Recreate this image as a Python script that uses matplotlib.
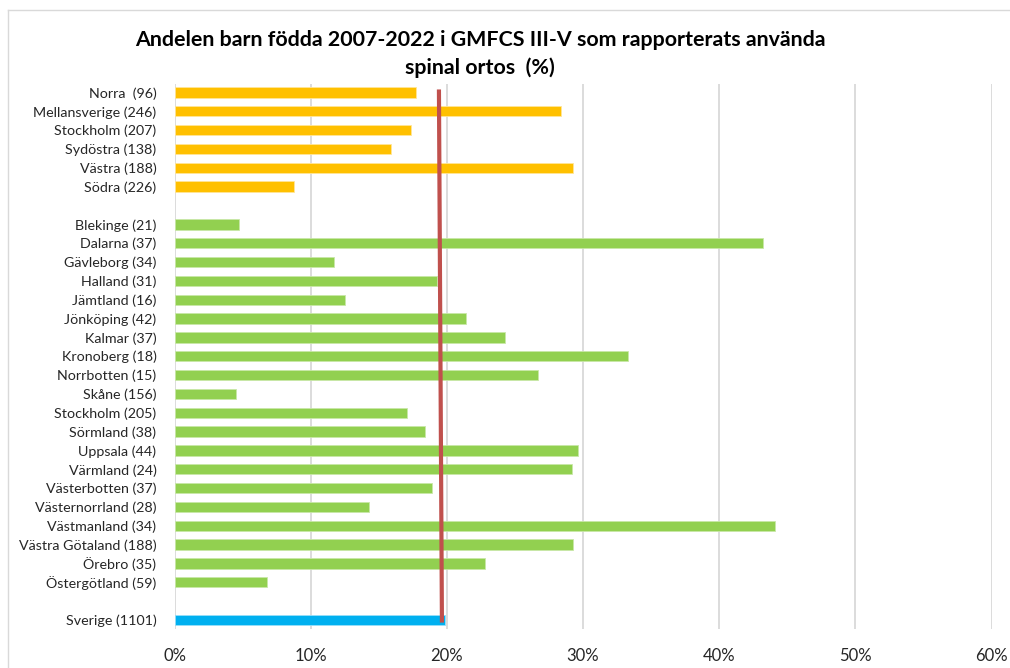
"""
Andel barn födda 2007-2022 i GMFCS III-V med spinal ortos,
per region och landsting, liggande stapeldiagram.
"""

import matplotlib.pyplot as plt
from matplotlib.lines import Line2D
from matplotlib.ticker import FuncFormatter

plt.rcParams['font.family'] = ['Lato', 'DejaVu Sans']

# regioner (sjukvårdsregioner)
regions = ['Norra  (96)', 'Mellansverige (246)', 'Stockholm (207)',
           'Sydöstra (138)', 'Västra (188)', 'Södra (226)']
region_values = [17.7, 28.4, 17.4, 15.9, 29.3, 8.8]

# landsting
counties = ['Blekinge (21)', 'Dalarna (37)', 'Gävleborg (34)', 'Halland (31)',
            'Jämtland (16)', 'Jönköping (42)', 'Kalmar (37)', 'Kronoberg (18)',
            'Norrbotten (15)', 'Skåne (156)', 'Stockholm (205)', 'Sörmland (38)',
            'Uppsala (44)', 'Värmland (24)', 'Västerbotten (37)',
            'Västernorrland (28)', 'Västmanland (34)', 'Västra Götaland (188)',
            'Örebro (35)', 'Östergötland (59)']
county_values = [4.75, 43.2, 11.75, 19.3, 12.5, 21.4, 24.3, 33.3, 26.7, 4.5,
                 17.1, 18.4, 29.6, 29.2, 18.9, 14.25, 44.1, 29.25, 22.8, 6.8]

# riket
national = ['Sverige (1101)']
national_values = [19.9]

# rikslinjen (röd)
ref_x = [19.42, 19.64]
ref_y = [-0.16, 28.14]

TITLE = 'Andelen barn födda 2007-2022 i GMFCS III-V som rapporterats använda\nspinal ortos  (%)'
X_TICKS = [0, 10, 20, 30, 40, 50, 60]

ORANGE = '#FFC000'
GREEN = '#92D050'
BLUE = '#00B0F0'
RED = '#C0504D'
GRID = '#D9D9D9'


def plot_graph():
    fig = plt.figure(figsize=(10.10, 6.68), dpi=100)
    ax = fig.add_axes([174.5 / 1010, 1 - 629 / 668, 817 / 1010, 545 / 668])

    # radpositioner, med en tom rad mellan grupperna
    pos_regions = list(range(len(regions)))
    start = len(regions) + 1
    pos_counties = list(range(start, start + len(counties)))
    start = pos_counties[-1] + 2
    pos_national = [start]

    h = 0.55
    ax.barh(pos_regions, region_values, height=h, color=ORANGE,
            edgecolor='#FFE699', linewidth=0.6, zorder=2)
    ax.barh(pos_counties, county_values, height=h, color=GREEN,
            edgecolor='#C9E8A8', linewidth=0.6, zorder=2)
    ax.barh(pos_national, national_values, height=h, color=BLUE,
            edgecolor='#99DFF9', linewidth=0.6, zorder=2)

    ax.plot(ref_x, ref_y, color=RED, linewidth=3.0, solid_capstyle='butt', zorder=3)

    ticks = pos_regions + pos_counties + pos_national
    ax.set_yticks(ticks)
    ax.set_yticklabels(regions + counties + national, fontsize=10.3, color='#262626')
    ax.set_ylim(28.48, -0.45)

    ax.set_xlim(0, 60)
    ax.set_xticks(X_TICKS)
    ax.xaxis.set_major_formatter(FuncFormatter(lambda v, p: '%d%%' % v))
    ax.tick_params(axis='x', labelsize=12, colors='#262626', length=0, pad=14)
    ax.tick_params(axis='y', length=0, pad=13)

    ax.grid(True, axis='x', color=GRID, linewidth=1.3, zorder=0)
    for s in ax.spines.values():
        s.set_visible(False)

    fig.text(480 / 1010, 1 - 54 / 668, TITLE, ha='center', va='center',
             fontsize=15.4, fontweight='bold', linespacing=1.45, color='black')

    # ram runt diagramytan
    fig.add_artist(Line2D([8 / 1010, 8 / 1010], [0, 1 - 10 / 668],
                          transform=fig.transFigure, color='#D9D9D9', linewidth=1))
    fig.add_artist(Line2D([8 / 1010, 1.0], [1 - 10 / 668, 1 - 10 / 668],
                          transform=fig.transFigure, color='#D9D9D9', linewidth=1))

    fig.savefig('out.png', dpi=100, facecolor='white')


if __name__ == '__main__':
    plot_graph()
